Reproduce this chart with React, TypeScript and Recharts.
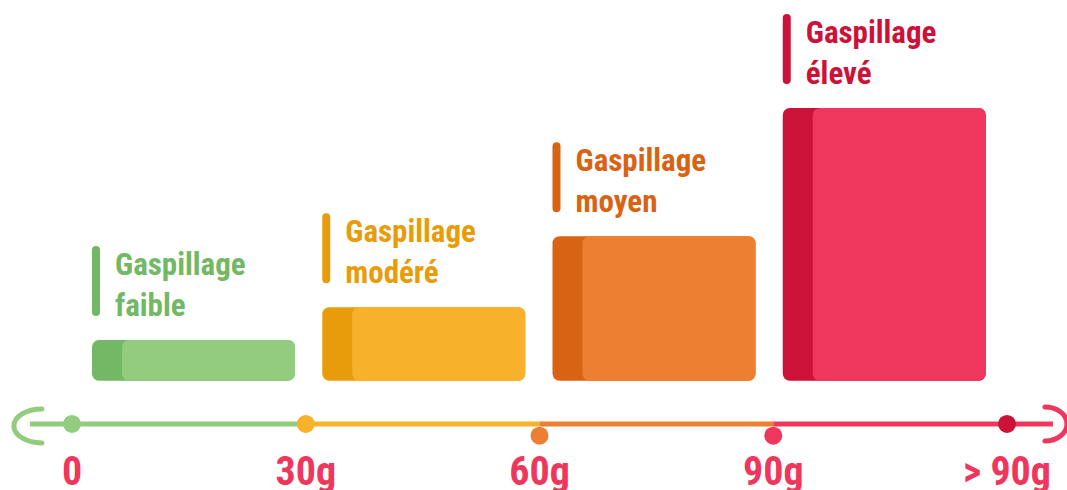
import React from 'react';
import { BarChart, Bar, XAxis, YAxis, LabelList, ReferenceLine, ReferenceDot } from 'recharts';

// ---- data ----
const categories = ['faible', 'modere', 'moyen', 'eleve'];
const rangeMidGrams = [15, 45, 75, 105];
const labelLine1 = ['Gaspillage', 'Gaspillage', 'Gaspillage', 'Gaspillage'];
const labelLine2 = ['faible', 'modéré', 'moyen', 'élevé'];
const values = [15, 27, 53, 100];
const darkColors = ['#72b865', '#e89c0c', '#d96315', '#cc1239'];
const lightColors = ['#93cb7f', '#f7b12b', '#ed7f33', '#ef365c'];

const scaleTicks = [0, 30, 60, 90, 120];
const scaleTickLabels = ['0', '30g', '60g', '90g', '> 90g'];
const scaleDotColors = ['#93cb7f', '#f7b12b', '#ed7f33', '#ef365c', '#cc1239'];
const segmentStarts = [-5.4, 30, 60, 90];
const segmentEnds = [30, 60, 90, 125.9];
const segmentColors = ['#93cb7f', '#f7b12b', '#ed7f33', '#ef365c'];

// ---- layout constants ----
const AXIS_Y = -15.8;
const DOT_LOW_Y = -20.1;
const dotDrops = [false, false, true, true, false];
const FONT = "'Roboto Condensed', 'Liberation Sans Narrow', 'DejaVu Sans Condensed', Roboto, sans-serif";
const TICK_COLOR = '#ef365c';

const data = categories.map((c, i) => ({
  name: c,
  grams: rangeMidGrams[i],
  value: values[i],
  dark: darkColors[i],
  light: lightColors[i],
}));

const BarShape = (props: any) => {
  const { x, y, width, height, payload } = props;
  if (height <= 0) return null;
  const strip = 30;
  return (
    <g>
      <rect x={x} y={y} width={width} height={height} rx={7} ry={7} fill={payload.dark} />
      <rect x={x + strip} y={y} width={width - strip} height={height} rx={7} ry={7} fill={payload.light} />
    </g>
  );
};

const BarLabel = (props: any) => {
  const { x, y, index } = props;
  const color = darkColors[index];
  return (
    <g>
      <rect x={x} y={y - 94} width={8} height={70} rx={4} ry={4} fill={color} />
      <text x={x + 23} y={y - 65} fill={color} fontFamily={FONT} fontWeight={700} fontSize={31} style={{ fontStretch: 'condensed' }}>
        {labelLine1[index]}
      </text>
      <text x={x + 23} y={y - 24} fill={color} fontFamily={FONT} fontWeight={700} fontSize={31} style={{ fontStretch: 'condensed' }}>
        {labelLine2[index]}
      </text>
    </g>
  );
};

const ScaleTick = (props: any) => {
  const { x, y, payload, index } = props;
  const i = scaleTicks.indexOf(payload.value);
  return (
    <text x={x} y={y + 6} textAnchor="middle" fill={TICK_COLOR} fontFamily={FONT} fontWeight={700} fontSize={40} style={{ fontStretch: 'condensed' }}>
      {scaleTickLabels[i >= 0 ? i : index]}
    </text>
  );
};

const LeftBracket = (props: any) => {
  const { cx, cy } = props;
  return (
    <path d={`M ${cx + 12} ${cy - 15} A 28 17 0 0 0 ${cx + 12} ${cy + 19}`} fill="none" stroke={segmentColors[0]} strokeWidth={5} strokeLinecap="round" />
  );
};

const RightBracket = (props: any) => {
  const { cx, cy } = props;
  return (
    <path d={`M ${cx - 8} ${cy - 17} A 22 17 0 0 1 ${cx - 8} ${cy + 17}`} fill="none" stroke={segmentColors[3]} strokeWidth={5} strokeLinecap="round" />
  );
};

export default function App() {
  return (
    <div style={{ position: 'absolute', left: 0, top: 0, width: 1067, height: 490, background: '#fff' }}>
      <BarChart
        width={1067}
        height={490}
        data={data}
        margin={{ top: 108, right: 60, bottom: 0, left: 72 }}
      >
        <XAxis xAxisId="cat" dataKey="name" hide padding={{ left: 6, right: 8 }} />
        <XAxis
          xAxisId="num"
          dataKey="grams"
          type="number"
          scale="linear"
          domain={[0, 120]}
          ticks={scaleTicks}
          allowDataOverflow
          axisLine={false}
          tickLine={false}
          tickSize={0}
          tickMargin={0}
          height={41}
          interval={0}
          tick={<ScaleTick />}
        />
        <YAxis hide domain={[-25, 100]} allowDataOverflow />
        {segmentStarts.map((s, i) => (
          <ReferenceLine
            key={'seg' + i}
            xAxisId="num"
            segment={[{ x: s, y: AXIS_Y }, { x: segmentEnds[i], y: AXIS_Y }]}
            stroke={segmentColors[i]}
            strokeWidth={5}
            ifOverflow="visible"
          />
        ))}
        <ReferenceDot xAxisId="num" x={segmentStarts[0]} y={AXIS_Y} r={0} ifOverflow="visible" shape={<LeftBracket />} />
        <ReferenceDot xAxisId="num" x={segmentEnds[3]} y={AXIS_Y} r={0} ifOverflow="visible" shape={<RightBracket />} />
        {scaleTicks.map((t, i) => (
          <ReferenceDot
            key={'dot' + i}
            xAxisId="num"
            x={t}
            y={dotDrops[i] ? DOT_LOW_Y : AXIS_Y}
            r={9}
            fill={scaleDotColors[i]}
            stroke="none"
            ifOverflow="visible"
          />
        ))}
        <Bar xAxisId="cat" dataKey="value" barSize={203} isAnimationActive={false} shape={<BarShape />}>
          <LabelList dataKey="value" content={<BarLabel />} />
        </Bar>
      </BarChart>
    </div>
  );
}
